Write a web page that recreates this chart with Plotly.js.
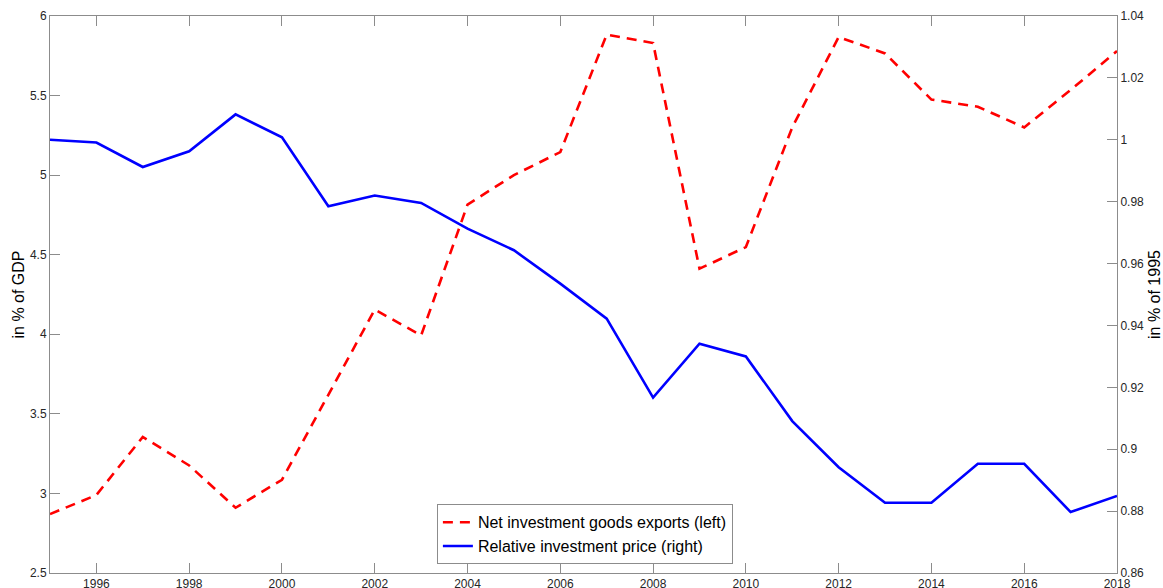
<!DOCTYPE html>
<html>
<head>
<meta charset="utf-8">
<script src="https://cdn.plot.ly/plotly-3.0.1.min.js"></script>
<style>html,body{margin:0;padding:0;background:#fff;}#chart{width:1163px;height:588px;}</style>
</head>
<body>
<div id="chart"></div>
<script>
const years = [1995,1996,1997,1998,1999,2000,2001,2002,2003,2004,2005,2006,2007,2008,2009,2010,2011,2012,2013,2014,2015,2016,2017,2018];
const netExports = [2.87,2.99,3.355,3.176,2.91,3.086,3.62,4.155,3.993,4.815,5.0,5.145,5.883,5.83,4.412,4.548,5.3,5.868,5.765,5.475,5.43,5.30,5.535,5.78];
const relPrice = [1.0,0.9991,0.9912,0.9963,1.0082,1.0008,0.9785,0.982,0.9796,0.9713,0.9643,0.9535,0.9422,0.9167,0.9341,0.930,0.9091,0.8942,0.8827,0.8827,0.8953,0.8953,0.8797,0.8849];
const xTicks = [1996,1998,2000,2002,2004,2006,2008,2010,2012,2014,2016,2018];
const yLeftTicks = [2.5,3,3.5,4,4.5,5,5.5,6];
const yRightTicks = [0.86,0.88,0.9,0.92,0.94,0.96,0.98,1,1.02,1.04];
const yRightLabels = ['0.86','0.88','0.9','0.92','0.94','0.96','0.98','1','1.02','1.04'];

const FONT = 'Liberation Sans, Arial, Helvetica, sans-serif';
const AX = '#8c8c8c';
const TXT = '#262626';

const traces = [
  {x: years, y: netExports, type: 'scatter', mode: 'lines', name: 'Net investment goods exports (left)',
   line: {color: '#ff0000', width: 2.6, dash: '10px,7px'}, yaxis: 'y'},
  {x: years, y: relPrice, type: 'scatter', mode: 'lines', name: 'Relative investment price (right)',
   line: {color: '#0000ff', width: 2.6}, yaxis: 'y2'}
];

const layout = {
  width: 1163, height: 588,
  margin: {l: 50, r: 46, t: 16, b: 15, pad: 0},
  paper_bgcolor: '#fff', plot_bgcolor: '#fff',
  font: {family: FONT, color: TXT, size: 12},
  showlegend: true,
  legend: {x: 0.3626, y: 0.0156, xanchor: 'left', yanchor: 'bottom',
    bgcolor: '#fff', bordercolor: '#8c8c8c', borderwidth: 1,
    font: {family: FONT, size: 16, color: '#000'}, tracegroupgap: 0},
  xaxis: {range: [1995, 2018], tickvals: xTicks, ticktext: xTicks.map(String),
    showgrid: false, zeroline: false, showline: true, linecolor: AX, linewidth: 1,
    mirror: 'ticks', ticks: 'inside', ticklen: 10, tickcolor: AX, tickwidth: 1,
    tickfont: {size: 12, color: TXT}},
  yaxis: {range: [2.5, 6], tickvals: yLeftTicks, ticktext: yLeftTicks.map(String),
    showgrid: false, zeroline: false, showline: true, linecolor: AX, linewidth: 1,
    ticks: 'inside', ticklen: 10, tickcolor: AX, tickwidth: 1,
    tickfont: {size: 12, color: TXT},
    title: {text: 'in % of GDP', font: {size: 16, color: '#000'}, standoff: 1}},
  yaxis2: {range: [0.86, 1.04], overlaying: 'y', side: 'right',
    tickvals: yRightTicks, ticktext: yRightLabels,
    showgrid: false, zeroline: false, showline: true, linecolor: AX, linewidth: 1,
    ticks: 'inside', ticklen: 10, tickcolor: AX, tickwidth: 1,
    tickfont: {size: 12, color: TXT},
    title: {text: 'in % of 1995', font: {size: 16, color: '#000'}, standoff: 6}}
};

Plotly.newPlot('chart', traces, layout, {displayModeBar: false, staticPlot: true});
</script>
</body>
</html>
